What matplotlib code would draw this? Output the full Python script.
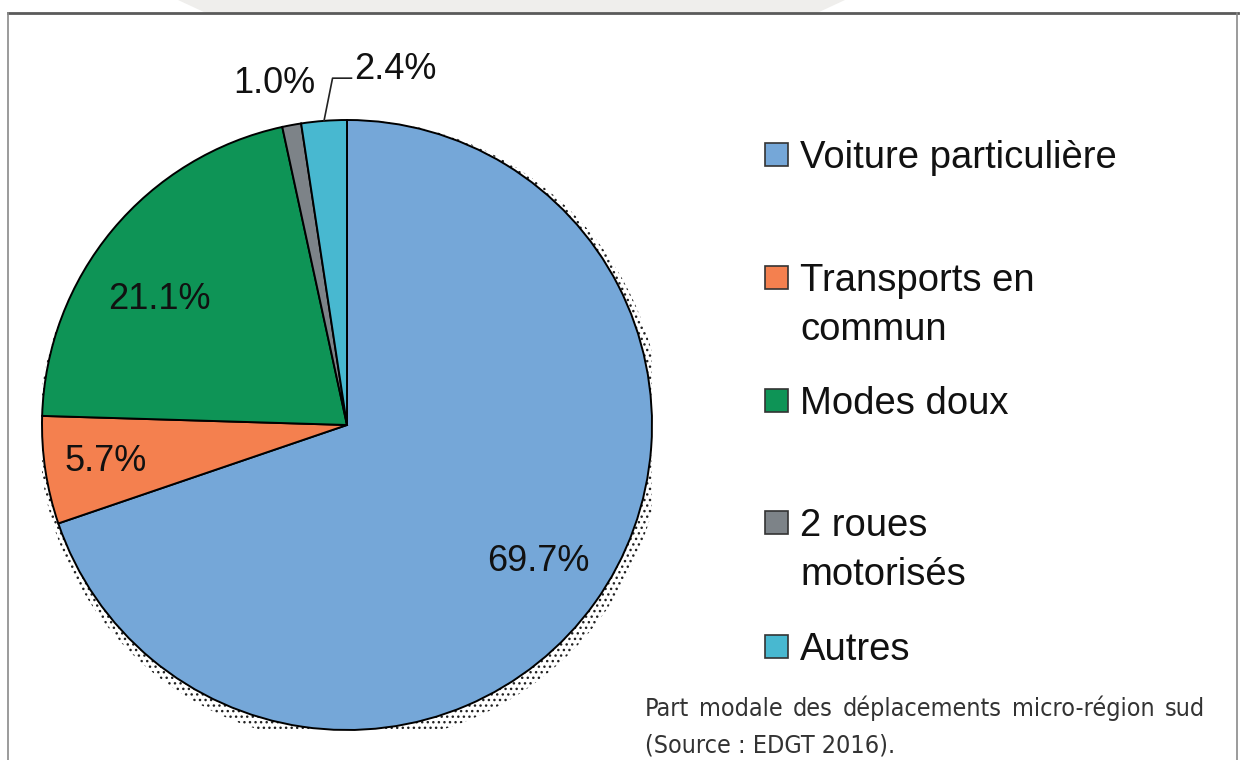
import numpy as np
import matplotlib.pyplot as plt
from matplotlib import font_manager
from matplotlib.patches import Rectangle, Circle, Polygon
from matplotlib.lines import Line2D

# data
categories = ['Voiture particulière', 'Transports en\ncommun', 'Modes doux',
              '2 roues\nmotorisés', 'Autres']
shares = [69.7, 5.7, 21.1, 1.0, 2.4]
colors = ['#75a7d8', '#f4804f', '#0e9456', '#7d8388', '#48b8d0']
caption_line1 = 'Part modale des déplacements micro-région sud'
caption_line2 = '(Source : EDGT 2016).'

# small nudges of the inner labels (radius, angle shift in degrees)
label_r = [0.77, 0.80, 0.74, 0, 0]
label_shift = [0, 0, 6, 0, 0]


def pick(*names):
    for n in names:
        try:
            font_manager.findfont(font_manager.FontProperties(family=n), fallback_to_default=False)
            return n
        except ValueError:
            pass
    return 'DejaVu Sans'


main_font = pick('Liberation Sans', 'Arial')
cap_props = dict(family='DejaVu Sans', stretch='condensed')

W, H = 1243, 760
fig = plt.figure(figsize=(W / 100, H / 100), dpi=100)


def fx(x):
    return x / W


def fy(y):
    return 1 - y / H


# page decoration: grey bump on top and frame
fig.add_artist(Polygon([(fx(178), fy(0)), (fx(845), fy(0)), (fx(817), fy(13)), (fx(206), fy(13))],
                       closed=True, transform=fig.transFigure, facecolor='#efeeec', edgecolor='none'))
fig.add_artist(Line2D([fx(8), fx(1238)], [fy(13), fy(13)], transform=fig.transFigure,
                      color='#5a5a5a', lw=2))
fig.add_artist(Line2D([fx(8), fx(8)], [fy(13), 0], transform=fig.transFigure, color='#8a8a8a', lw=1.2))
fig.add_artist(Line2D([fx(1237), fx(1237)], [fy(13), 0], transform=fig.transFigure, color='#8a8a8a', lw=1.2))

# pie
ax = fig.add_axes([fx(42), 30 / H, 610 / W, 610 / H])
shadow = Circle((0.012, -0.022), 1.022, facecolor='none', edgecolor='#222222', hatch='...',
                lw=0, zorder=0)
ax.add_patch(shadow)
wedges, _ = ax.pie(shares, colors=colors, startangle=90, counterclock=False, radius=1,
                   wedgeprops=dict(edgecolor='black', linewidth=1.4))
ax.set_xlim(-1, 1)
ax.set_ylim(-1, 1)
ax.axis('off')

for w, v, r, s in zip(wedges, shares, label_r, label_shift):
    mid = np.deg2rad((w.theta1 + w.theta2) / 2 + s)
    if v >= 5:
        ax.text(r * np.cos(mid), r * np.sin(mid), f'{v:.1f}%', ha='center', va='center',
                fontsize=26, family=main_font, color='#111111')

# small slices: outside labels
gray_w, cyan_w = wedges[3], wedges[4]
mid = np.deg2rad((gray_w.theta1 + gray_w.theta2) / 2)
ax.text(1.15 * np.cos(mid) - 0.03, 1.14 * np.sin(mid), f'{shares[3]:.1f}%', ha='center', va='center',
        fontsize=26, family=main_font, color='#111111')
mid = np.deg2rad((cyan_w.theta1 + cyan_w.theta2) / 2)
x0, y0 = np.cos(mid), np.sin(mid)
ax.plot([x0, x0 + 0.028, x0 + 0.09], [y0, y0 + 0.14, y0 + 0.14], color='#222222', lw=1.2, clip_on=False)
ax.text(x0 + 0.1, y0 + 0.17, f'{shares[4]:.1f}%', ha='left', va='center',
        fontsize=26, family=main_font, color='#111111')

# legend drawn by hand
baselines = [168, 291, 414, 536, 660]
step = 49
for w, label, yb in zip(wedges, categories, baselines):
    fig.add_artist(Rectangle((fx(765), fy(yb - 2)), 23 / W, 23 / H, transform=fig.transFigure,
                             facecolor=w.get_facecolor(), edgecolor='#333333', lw=1.2))
    for i, line in enumerate(label.split('\n')):
        fig.text(fx(800), fy(yb + i * step), line, ha='left', va='baseline',
                 fontsize=27.5, family=main_font, color='#111111')

# caption, first line justified between x=645 and x=1205
renderer = fig.canvas.get_renderer()
words = caption_line1.split(' ')
arts = [fig.text(0, fy(716), wd, ha='left', va='baseline', fontsize=18, color='#333333',
                 **cap_props) for wd in words]
widths = [a.get_window_extent(renderer).width for a in arts]
gap = (1205 - 645 - sum(widths)) / (len(words) - 1)
xpos = 645
for a, wd in zip(arts, widths):
    a.set_x(fx(xpos))
    xpos += wd + gap
fig.text(fx(645), fy(753), caption_line2, ha='left', va='baseline', fontsize=18, color='#333333',
         **cap_props)

fig.savefig('out.png', dpi=100)
